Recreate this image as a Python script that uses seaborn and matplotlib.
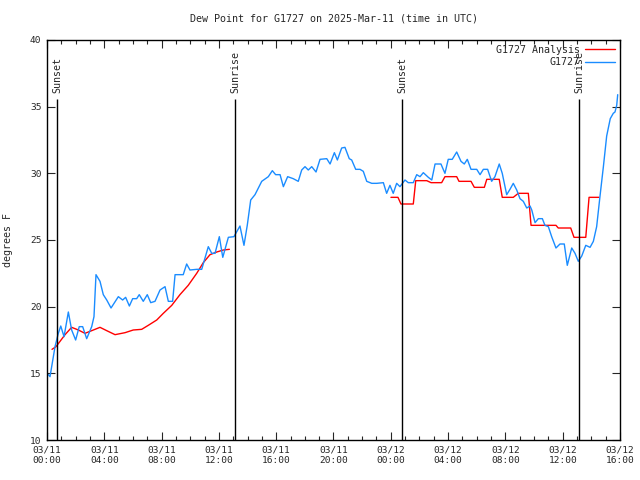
import matplotlib
matplotlib.use("Agg")
import matplotlib.pyplot as plt
import matplotlib.dates as mdates
import seaborn as sns
import pandas as pd
import numpy as np

# Observed dew point (hours after 2025-03-11 00:00 UTC, deg F)
obs_hours = [0.10, 0.21, 0.56, 0.79, 0.96, 1.19, 1.49, 1.72, 2.00, 2.25, 2.49, 2.77, 3.12, 3.28,
             3.42, 3.70, 3.93, 4.17, 4.47, 4.98, 5.28, 5.49, 5.75, 5.98, 6.26, 6.44, 6.72, 7.00,
             7.24, 7.54, 7.89, 8.24, 8.47, 8.77, 8.94, 9.51, 9.75, 9.98, 10.45, 10.80, 11.26,
             11.50, 11.73, 12.03, 12.27, 12.66, 13.05, 13.47, 13.75, 13.98, 14.22, 14.52, 14.99,
             15.45, 15.73, 15.96, 16.27, 16.50, 16.80, 17.19, 17.54, 17.78, 18.01, 18.24, 18.48,
             18.78, 19.06, 19.53, 19.76, 20.06, 20.27, 20.57, 20.80, 21.10, 21.27, 21.55, 21.85,
             22.08, 22.32, 22.67, 23.02, 23.48, 23.71, 23.94, 24.17, 24.41, 24.64, 24.99, 25.22,
             25.57, 25.81, 26.04, 26.27, 26.62, 26.86, 27.09, 27.50, 27.78, 28.01, 28.29, 28.60,
             28.90, 29.13, 29.34, 29.60, 30.00, 30.23, 30.46, 30.76, 31.04, 31.27, 31.57, 31.78,
             32.09, 32.32, 32.55, 32.79, 33.02, 33.25, 33.49, 33.72, 33.84, 34.07, 34.30, 34.58,
             34.76, 35.00, 35.23, 35.53, 35.81, 36.11, 36.32, 36.63, 36.86, 37.09, 37.33, 37.61,
             37.91, 38.14, 38.37, 38.60, 38.84, 39.07, 39.32, 39.53, 39.65, 39.77, 39.84]
obs_dewpt = [14.9, 14.75, 17.0, 18.0, 18.55, 17.75, 19.6, 18.25, 17.5, 18.5, 18.5, 17.6, 18.5, 19.25,
             22.4, 21.9, 20.9, 20.5, 19.9, 20.75, 20.5, 20.7, 20.05, 20.6, 20.6, 20.9, 20.4, 20.9,
             20.3, 20.4, 21.25, 21.5, 20.4, 20.4, 22.4, 22.4, 23.2, 22.75, 22.8, 22.8, 24.5,
             24.0, 24.0, 25.25, 23.7, 25.2, 25.25, 26.05, 24.6, 26.1, 28.0, 28.4, 29.4,
             29.75, 30.2, 29.9, 29.9, 29.0, 29.75, 29.6, 29.4, 30.25, 30.5, 30.25, 30.5,
             30.1, 31.05, 31.1, 30.7, 31.55, 31.0, 31.9, 31.95, 31.1, 31.0, 30.3, 30.3,
             30.15, 29.4, 29.25, 29.25, 29.3, 28.5, 29.1, 28.5, 29.25, 29.0, 29.5, 29.3,
             29.3, 29.9, 29.75, 30.05, 29.7, 29.5, 30.7, 30.7, 30.0, 31.05, 31.05, 31.6,
             30.9, 30.7, 31.05, 30.3, 30.3, 29.9, 30.3, 30.3, 29.4, 29.75, 30.7, 30.0,
             28.4, 28.8, 29.25, 28.75, 28.1, 27.9, 27.4, 27.55, 27.25, 26.3, 26.6, 26.6,
             26.1, 26.0, 25.25, 24.4, 24.7, 24.7, 23.1, 24.4, 24.0, 23.4, 23.8, 24.6,
             24.45, 24.9, 26.0, 28.25, 30.5, 32.8, 34.1, 34.5, 34.6, 35.1, 35.9]

# Analysis dew point, first day
ana1_hours = [0.35, 0.63, 0.91, 1.26, 1.72, 2.19, 2.65, 3.12, 3.70, 4.17, 4.75, 5.45, 6.02, 6.61,
              7.07, 7.66, 8.12, 8.71, 9.28, 9.86, 10.45, 10.91, 11.38, 11.85, 12.31, 12.73]
ana1_dewpt = [16.8, 17.0, 17.4, 17.9, 18.45, 18.25, 18.0, 18.2, 18.45, 18.2, 17.9, 18.05, 18.25, 18.3,
              18.6, 19.0, 19.5, 20.1, 20.9, 21.6, 22.5, 23.3, 23.9, 24.1, 24.25, 24.3]

# Analysis dew point, second night (hourly steps)
ana2_hours = [24.01, 24.50, 24.71, 25.57, 25.74, 26.51, 26.81, 27.55, 27.78, 28.60, 28.76, 29.60,
              29.83, 30.53, 30.70, 31.57, 31.78, 32.55, 32.90, 33.60, 33.79, 35.53, 35.69, 36.56,
              36.79, 37.61, 37.84, 38.53]
ana2_dewpt = [28.2, 28.2, 27.7, 27.7, 29.45, 29.45, 29.3, 29.3, 29.75, 29.75, 29.4, 29.4,
              28.95, 28.95, 29.55, 29.55, 28.2, 28.2, 28.5, 28.5, 26.1, 26.1, 25.9, 25.9,
              25.2, 25.2, 28.2, 28.2]

event_labels = ["Sunset", "Sunrise", "Sunset", "Sunrise"]
event_hours = [0.70, 13.12, 24.78, 37.14]

start = pd.Timestamp("2025-03-11 00:00")


def to_time(hours):
    return start + pd.to_timedelta(np.array(hours), unit="h")


obs = pd.DataFrame({"time": to_time(obs_hours), "dewpt": obs_dewpt})
ana1 = pd.DataFrame({"time": to_time(ana1_hours), "dewpt": ana1_dewpt})
ana2 = pd.DataFrame({"time": to_time(ana2_hours), "dewpt": ana2_dewpt})

sns.set_style("ticks")
plt.rcParams["font.family"] = ["DejaVu Sans Mono"]
plt.rcParams["font.size"] = 7.2

fig = plt.figure(figsize=(6.4, 4.8), dpi=100)
ax = fig.add_axes([47 / 640, 40 / 480, 573 / 640, 400 / 480])

sns.lineplot(data=ana1, x="time", y="dewpt", ax=ax, color="red", lw=1, label="G1727 Analysis")
sns.lineplot(data=ana2, x="time", y="dewpt", ax=ax, color="red", lw=1)
sns.lineplot(data=obs, x="time", y="dewpt", ax=ax, color="#1a8cff", lw=1, label="G1727")

for lab, h in zip(event_labels, event_hours):
    t = to_time([h])[0]
    ax.vlines(t, 10, 35.6, color="black", lw=1)
    ax.text(t, 36.0, lab, rotation=90, ha="center", va="bottom")

ax.set_xlim(start, start + pd.Timedelta(hours=40))
ax.set_ylim(10, 40)
ax.set_yticks(range(10, 41, 5))
ax.xaxis.set_major_locator(mdates.HourLocator(byhour=range(0, 24, 4)))
ax.xaxis.set_minor_locator(mdates.HourLocator())
ax.xaxis.set_major_formatter(mdates.DateFormatter("%m/%d\n%H:%M"))
ax.tick_params(which="both", direction="in", top=True, right=True, width=0.8, pad=4, labelsize=6.8)
ax.tick_params(which="major", length=6)
ax.tick_params(which="minor", length=3)
for s in ax.spines.values():
    s.set_linewidth(1)
    s.set_color("black")

ax.set_xlabel("")
ax.set_ylabel("degrees F", labelpad=12)
ax.set_title("Dew Point for G1727 on 2025-Mar-11 (time in UTC)", fontsize=7.2, pad=13)

ax.legend(loc="upper right", frameon=False, markerfirst=False, handlelength=3.0,
          borderaxespad=0.1, labelspacing=0.25, handletextpad=0.5)

fig.savefig("out.png", dpi=100)
